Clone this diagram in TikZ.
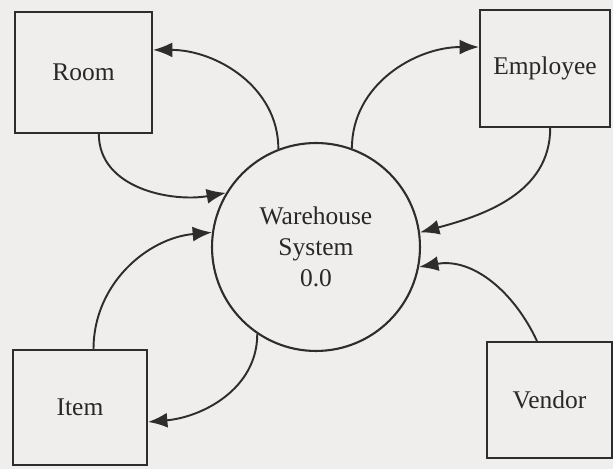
\documentclass[tikz,border=0pt]{standalone}
\usepackage{fontspec}
\setmainfont{Liberation Serif}
\usetikzlibrary{arrows.meta}
\definecolor{paper}{RGB}{239,238,236}
\definecolor{ink}{RGB}{45,45,45}
\definecolor{textink}{RGB}{40,40,40}
\begin{document}
\begin{tikzpicture}[x=0.02cm,y=0.02cm,
  entity/.style={draw=ink, line width=1.2pt, fill=paper, rectangle, inner sep=0pt,
    font=\fontsize{14.5}{17}\selectfont, text=textink},
  process/.style={draw=ink, line width=1.2pt, fill=paper, circle, inner sep=0pt,
    minimum size=4.16cm, align=center, font=\fontsize{14.5}{17.5}\selectfont, text=textink},
  flow/.style={draw=ink, line width=1.1pt, -{Latex[length=11pt,width=8.5pt]}}]
  % page
  \fill[paper] (0,0) rectangle (613,469);
  \useasboundingbox (0,0) rectangle (613,469);
  % external entities and the central process
  \node[process] (sys) at (316,222) {Warehouse\\System\\0.0};
  \node[entity, minimum width=2.74cm, minimum height=2.42cm] (room) at (83.5,396.5) {Room};
  \node[entity, minimum width=2.60cm, minimum height=2.34cm] (emp) at (545,400.5) {Employee};
  \node[entity, minimum width=2.68cm, minimum height=2.30cm] (item) at (80,61.5) {Item};
  \node[entity, minimum width=2.50cm, minimum height=2.32cm] (vendor) at (549.5,69) {Vendor};
  % data flows
  \draw[flow] (sys.111) to[out=90, in=0] (room.18);
  \draw[flow] (room.-76) to[out=-90, in=190] (sys.149);
  \draw[flow] (sys.70) to[out=90, in=180] (emp.162);
  \draw[flow] (emp.-85) to[out=-90, in=15] (sys.8);
  \draw[flow] (item.77) to[out=90, in=185] (sys.172);
  \draw[flow] (sys.-124) to[out=-90, in=5] (item.-12);
  \draw[flow] (vendor.102) to[out=115, in=10] (sys.-11);
\end{tikzpicture}
\end{document}
